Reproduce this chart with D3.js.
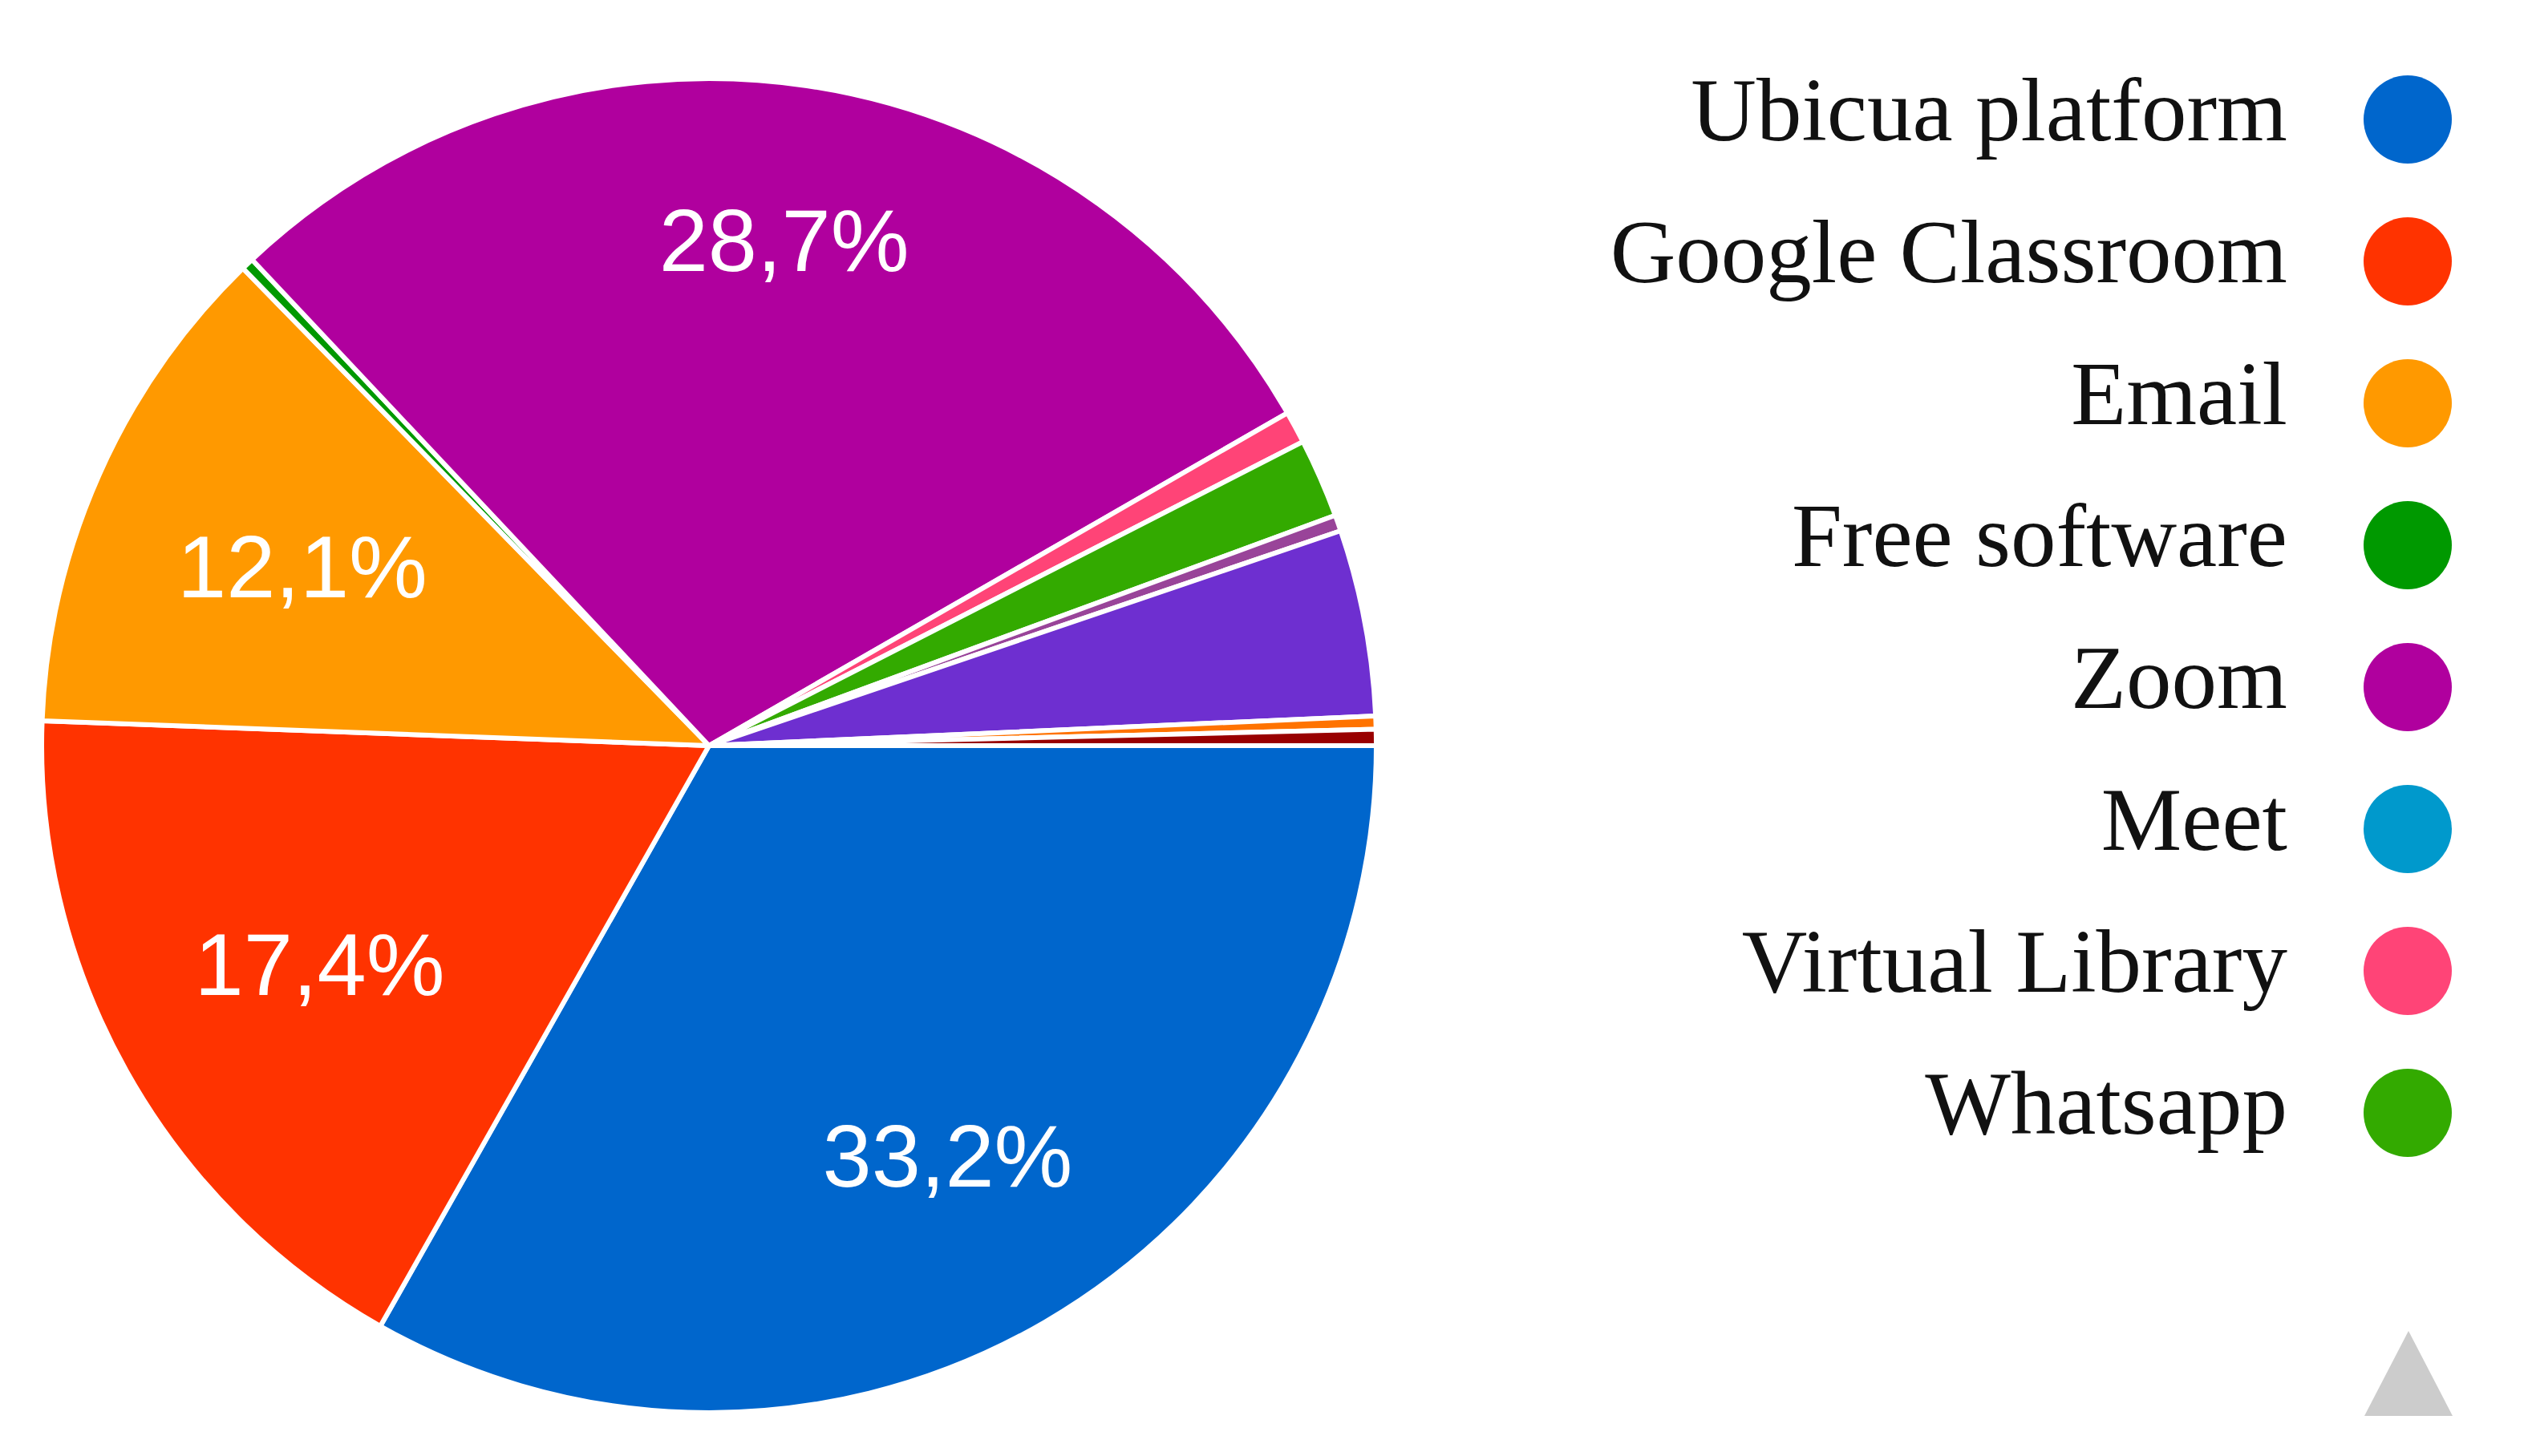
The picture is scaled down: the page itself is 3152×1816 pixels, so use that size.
<!DOCTYPE html>
<html>
<head>
	<title>Tools used for online classes</title>
	<style>
		html, body {
			margin: 0;
			padding: 0;
			background: #fff;
		}
		#chart {
			width: 3152px;
			height: 1816px;
		}
		.slice {
			stroke: #fff;
			stroke-width: 6px;
			stroke-linejoin: round;
		}
		.pct {
			fill: #fff;
			font-family: "Liberation Sans", Arial, sans-serif;
			font-size: 110px;
			text-anchor: middle;
		}
		.legend text {
			fill: #111;
			font-family: "Liberation Serif", "Times New Roman", serif;
			font-size: 113px;
			text-anchor: end;
		}
	</style>
</head>
<body>
	<div id="chart"></div>
	<script src="https://cdn.jsdelivr.net/npm/d3@7"></script>
	<script>
		// categories in drawing order (clockwise from 3 o'clock)
		// the last four only appear on the second legend page, names not visible
		var categories = ['Ubicua platform', 'Google Classroom', 'Email', 'Free software', 'Zoom', 'Meet',
			'Virtual Library', 'Whatsapp', 'Other 1', 'Other 2', 'Other 3', 'Other 4'];
		var shares = [33.2, 17.4, 12.1, 0.3, 28.7, 0, 0.78, 1.92, 0.39, 4.51, 0.32, 0.39];
		var colors = ['#0066cc', '#ff3300', '#ff9900', '#009900', '#b0009e', '#0099cc',
			'#ff4477', '#33aa00', '#994499', '#6e2fd0', '#ff7300', '#990000'];
		var legendPageSize = 8;

		(function draw() {
			var bounds = { width: 3152, height: 1816 };
			var pie = { cx: 884, cy: 930, r: 832 };

			var data = categories.map(function (c, i) {
				return { name: c, value: shares[i], color: colors[i] };
			});

			var svg = d3.select('#chart')
							.append('svg')
							.attr('width', bounds.width)
							.attr('height', bounds.height);

			svg.append('rect')
				.attr('width', bounds.width)
				.attr('height', bounds.height)
				.attr('fill', '#fff');

			var layout = d3.pie()
							.sort(null)
							.value(function (d) { return d.value; })
							.startAngle(Math.PI / 2)
							.endAngle(Math.PI / 2 + 2 * Math.PI);

			var arcFn = d3.arc()
							.innerRadius(0)
							.outerRadius(pie.r);

			var arcs = layout(data);

			var g = svg.append('g')
						.attr('transform', 'translate(' + pie.cx + ',' + pie.cy + ')');

			g.selectAll('path.slice')
				.data(arcs.filter(function (d) { return d.value > 0; }))
				.enter()
				.append('path')
				.attr('class', 'slice')
				.attr('fill', function (d) { return d.data.color; })
				.attr('d', arcFn);

			// percent labels, comma as decimal separator
			var fmt = d3.formatLocale({ decimal: ',', thousands: '.', grouping: [3], currency: ['', ''] }).format('.1f');
			var total = d3.sum(shares);

			var labels = g.selectAll('text.pct')
				.data(arcs.filter(function (d) { return d.value / total > 0.05; }))
				.enter()
				.append('text')
				.attr('class', 'pct')
				.text(function (d) { return fmt(d.value / total * 100) + '%'; });

			// keep the text box inside the slice, like the chart tool does
			labels.each(function (d) {
				var bb = this.getBBox();
				var a = (d.startAngle + d.endAngle) / 2;
				var s = Math.sin(a), c = -Math.cos(a);
				var rr = pie.r * 0.868 - (bb.width / 2) * Math.abs(s) - (bb.height / 2) * Math.abs(c);
				d3.select(this)
					.attr('x', rr * s)
					.attr('y', rr * c)
					.attr('dy', '0.36em');
			});

			// legend, first page only
			var rowY = d3.scalePoint()
							.domain(d3.range(legendPageSize))
							.range([149, 149 + 177 * (legendPageSize - 1)]);

			var legend = svg.append('g').attr('class', 'legend');
			var rows = legend.selectAll('g')
				.data(data.slice(0, legendPageSize))
				.enter()
				.append('g')
				.attr('transform', function (d, i) { return 'translate(0,' + rowY(i) + ')'; });

			rows.append('circle')
				.attr('cx', 3002)
				.attr('r', 55)
				.attr('fill', function (d) { return d.color; });

			rows.append('text')
				.attr('x', 2852)
				.attr('y', 26)
				.text(function (d) { return d.name; });

			// paging arrow
			var tri = d3.path();
			tri.moveTo(2948, 1766);
			tri.lineTo(3058, 1766);
			tri.lineTo(3003, 1660);
			tri.closePath();
			legend.append('path')
				.attr('d', tri.toString())
				.attr('fill', '#cccccc');
		})();
	</script>
</body>
</html>
